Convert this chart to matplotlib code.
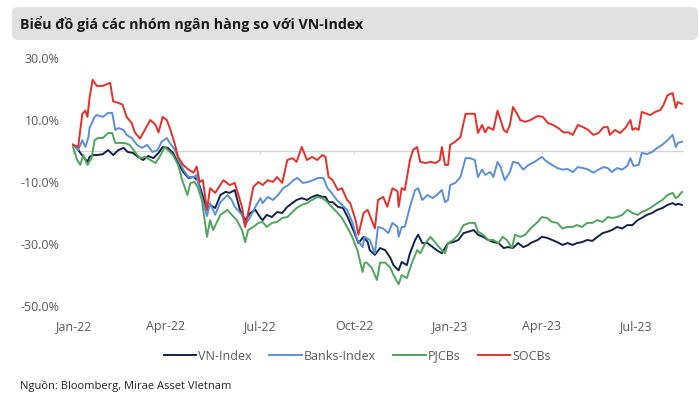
import pandas as pd
import matplotlib
matplotlib.use("Agg")
import matplotlib.pyplot as plt
import matplotlib.dates as mdates
from matplotlib.patches import FancyBboxPatch
from matplotlib.ticker import FuncFormatter

plt.rcParams['font.family'] = ['Open Sans', 'DejaVu Sans']

# Price change vs 1 Jan 2022 (%); x = days since 2022-01-01
start = pd.Timestamp("2022-01-01")

vn_days = [0, 4, 7, 10, 14, 16, 19, 24, 29, 34, 39, 44, 49, 53, 58, 63, 68, 73, 78, 83,
           87, 92, 97, 102, 107, 112, 117, 121, 125, 130, 133, 138, 143, 148, 152, 157, 162, 167, 172, 177,
           182, 184, 188, 193, 198, 203, 208, 213, 217, 222, 227, 232, 237, 242, 245, 248, 252, 257, 262, 267,
           272, 277, 282, 286, 288, 293, 298, 303, 308, 311, 316, 319, 324, 327, 332, 335, 339, 344, 349, 353,
           358, 361, 364, 369, 374, 379, 384, 389, 393, 398, 403, 408, 413, 418, 422, 427, 432, 437, 442, 444,
           451, 455, 460, 465, 470, 475, 480, 485, 489, 494, 499, 504, 509, 514, 519, 523, 528, 533, 538, 543,
           548, 552, 557, 562, 567, 572, 577, 582, 585, 587, 591]
vn_index = [2, 1, -0.6, -1.9, -3.5, -1.9, -1.3, -1.3, -1, 0.3, -1.3, 0.3, 1, -0.3, -0.6, -1.9, -2.9, -1.6, -2.3, -0.6,
            1.3, 1, -0.6, -3.9, -6.8, -8.7, -8.4, -9.4, -13.5, -19, -17.4, -18.4, -14.2, -13.2, -13.5, -12.6, -19, -22.3, -20, -19,
            -21.6, -22.3, -20.6, -21.3, -19.7, -20, -18, -16.8, -15.8, -15.2, -15.8, -14.8, -14.2, -14.8, -14.8, -16.5, -16.5, -18, -18.4, -21.6,
            -25.5, -29.7, -27.7, -29.4, -32, -33.5, -31.3, -32, -34.5, -36.8, -38.5, -35.8, -36.8, -33, -28.7, -27, -29.7, -29.7, -31, -32,
            -33, -31.3, -29.7, -29.4, -28.7, -26.5, -26, -25.5, -27, -27.7, -28.7, -29.4, -29.7, -31.3, -31, -31.3, -29.7, -31, -30.3, -29.7,
            -28.7, -27.7, -28, -28.7, -29.4, -30.3, -29.7, -30.3, -29.7, -29.4, -28.7, -29, -27.7, -26.5, -26, -25.5, -24.5, -25, -23.9, -23.9,
            -22.3, -21.6, -20.6, -20, -19, -18.4, -17.4, -16.8, -17.4, -17, -17.4]

bank_days = [0, 5, 9, 12, 15, 16, 21, 23, 29, 34, 38, 41, 44, 49, 52, 57, 62, 67, 72, 77,
             82, 86, 91, 94, 99, 102, 107, 112, 117, 120, 123, 130, 133, 138, 143, 150, 154, 157, 164, 167,
             172, 177, 182, 184, 189, 194, 199, 204, 209, 214, 218, 223, 228, 233, 238, 243, 247, 251, 256, 261,
             266, 271, 276, 281, 283, 288, 293, 296, 301, 306, 310, 315, 316, 319, 322, 327, 332, 335, 339, 344,
             349, 353, 358, 361, 364, 366, 371, 376, 381, 385, 390, 393, 397, 400, 405, 408, 412, 415, 419, 424,
             427, 432, 437, 442, 448, 455, 460, 465, 470, 475, 480, 485, 490, 495, 500, 505, 510, 515, 519, 523,
             528, 533, 538, 541, 544, 549, 552, 557, 562, 567, 572, 577, 582, 585, 587, 591]
banks_index = [2, 0.3, 3.5, 1.3, 4.5, 7.4, 11, 11.6, 11, 12.3, 12.3, 6.8, 7.4, 6.8, 5.2, 4.2, 2, 1, 2, -0.3,
               0.3, 3, 4.2, 2.6, 0.3, -2.3, -6, -8.4, -8.4, -7.7, -12.6, -21, -16.8, -20.6, -16.5, -14.2, -15.8, -18, -20.6, -23.9,
               -21.3, -18, -15.2, -16.8, -14.8, -15.8, -14.2, -12, -11, -9.4, -8.7, -10.3, -10, -9.4, -8.7, -8.7, -12, -13.5, -15.8, -17.4,
               -19, -22.9, -28.7, -31, -27.7, -28.7, -33, -24.5, -25, -26.5, -23.2, -24.5, -27.7, -24.5, -24.5, -18, -12.6, -12, -15.8, -14.2,
               -15.2, -14.2, -12.6, -16.5, -15.8, -11, -10.3, -8.4, -2.3, -2.3, -2.9, -8.4, -6, -7.7, -6.8, -8.4, -3.5, -5.2, -9.4, -6.8,
               -3.5, -3.9, -6, -4.5, -3.5, -1.9, -3.5, -4.5, -5.5, -6, -5.8, -6.8, -5.2, -5.5, -6, -7, -6, -5.2, -5.5, -6.8,
               -5.5, -6, -4.8, -2.3, -4.8, -4.5, -0.6, -1, -0.3, 1, 2, 3.5, 5.2, 1.3, 2.6, 3]

pj_days = [0, 4, 7, 10, 14, 18, 21, 24, 29, 34, 38, 41, 46, 50, 55, 60, 65, 70, 75, 80,
           84, 89, 92, 97, 102, 106, 111, 114, 118, 121, 125, 130, 133, 136, 143, 150, 154, 159, 164, 167,
           170, 175, 180, 184, 188, 193, 198, 203, 208, 213, 217, 222, 227, 232, 237, 242, 247, 251, 256, 261,
           266, 271, 276, 281, 283, 285, 290, 295, 298, 303, 308, 311, 316, 319, 324, 329, 334, 337, 342, 347,
           352, 356, 361, 364, 369, 374, 379, 385, 390, 393, 398, 403, 408, 413, 417, 421, 426, 429, 434, 439,
           444, 451, 455, 460, 465, 470, 475, 480, 485, 489, 494, 499, 504, 509, 514, 519, 523, 528, 533, 538,
           543, 548, 552, 557, 562, 567, 572, 577, 582, 585, 587, 591]
pjcbs = [1.3, -2.9, -4.5, -1.3, -4.5, -2.3, 3.5, 4.2, 4.2, 5.8, 5.8, 2.6, 2.6, 2.6, 2, -0.3, -2.3, -1.9, -2.9, -3.9,
         -1.9, 1.3, 0.3, -1.3, -4.5, -9.4, -14.2, -10.3, -10, -11.6, -15.8, -27.7, -22.3, -25.5, -20.6, -19, -20.6, -22.3, -25.5, -29.4,
         -25.5, -24.5, -23.2, -22.9, -24.5, -23.2, -22.9, -21.6, -21.3, -19.7, -18.4, -17.4, -16.8, -15.8, -14.8, -15.2, -16.5, -18, -19.7, -21.6,
         -24.5, -27.7, -32, -39, -36, -36, -37.7, -41.6, -36, -36, -37.7, -40, -43, -40, -41, -36, -32, -33, -29.7, -27.7,
         -29.7, -31.3, -33, -29.7, -28.7, -27, -23.9, -23.2, -23.2, -26, -27, -28.7, -28.7, -29.7, -27.7, -28.7, -31.3, -27, -27.7, -27,
         -25, -22.9, -21.3, -21.6, -22.9, -23.2, -25, -24.5, -24.5, -23.9, -24.5, -23.2, -23.2, -22.3, -22.9, -21.3, -21.6, -21.3, -20.6, -19,
         -20, -20.6, -19.7, -19, -18, -16.8, -15.8, -14.2, -13.5, -15.2, -14.8, -13.2]

soc_days = [0, 5, 9, 12, 14, 16, 19, 23, 29, 36, 39, 44, 48, 52, 57, 60, 65, 70, 75, 80,
            83, 87, 91, 94, 99, 102, 107, 112, 117, 120, 123, 126, 130, 133, 138, 146, 152, 157, 164, 167,
            170, 175, 180, 184, 189, 194, 198, 203, 208, 213, 217, 222, 227, 232, 237, 242, 245, 248, 252, 257,
            261, 266, 269, 274, 277, 282, 286, 293, 296, 301, 305, 310, 315, 316, 319, 322, 327, 330, 334, 337,
            342, 347, 352, 356, 358, 361, 364, 366, 371, 376, 381, 385, 390, 393, 397, 400, 403, 408, 412, 415,
            418, 421, 424, 427, 431, 434, 439, 444, 451, 456, 461, 466, 471, 476, 481, 485, 490, 495, 500, 505,
            510, 515, 519, 521, 526, 531, 536, 541, 543, 546, 549, 552, 557, 560, 565, 570, 573, 577, 582, 585,
            587, 591]
socbs = [2, 1.3, 12, 13, 11, 17, 23, 21, 21, 22, 16, 15.5, 15, 11, 9, 6, 4, 7, 10, 8.5,
         6, 11, 10, 7.4, 2, -2, -4.5, -6, -7, -5, -10, -9.4, -19, -12, -13.5, -9.4, -11, -10.3, -18, -24.5,
         -20, -11.6, -10, -11, -9.4, -10, -8.4, -10.3, -2.9, -2.3, -3.5, 1.3, -2.9, -1.9, -2.9, -1.3, -1.9, -8.4, -9.4, -12.6,
         -12, -15.8, -16.8, -22, -27, -20, -19, -25, -15.8, -14.8, -18, -12, -13, -18, -12, -12.6, -2.9, 0.3, 1.3, -3.5,
         -3.9, -3.5, -3.9, -2.9, 1.3, -4.5, -4.5, 2, 3, 4.5, 12, 12, 12, 5.8, 8.4, 6, 7.7, 6.8, 13, 10,
         6.8, 6, 8.4, 14.2, 12, 10, 9.4, 10, 11.3, 11, 9, 8.4, 7.4, 6, 6, 5.2, 8.4, 7.7, 6.8, 5.2,
         5.8, 7.7, 7.7, 5.2, 6.8, 5.8, 7.4, 10, 6.8, 7.4, 6.8, 12.6, 12, 11.6, 12.6, 13.2, 14.8, 18, 18.7, 13.9,
         15.8, 15.2]

series = [
    ("VN-Index", vn_days, vn_index, "#13224d"),
    ("Banks-Index", bank_days, banks_index, "#5b8fd6"),
    ("PJCBs", pj_days, pjcbs, "#4fa55c"),
    ("SOCBs", soc_days, socbs, "#e2312a"),
]

quarters = pd.to_datetime(["2022-01-01", "2022-04-01", "2022-07-01", "2022-10-01",
                           "2023-01-01", "2023-04-01", "2023-07-01"])
y_ticks = [-50, -30, -10, 10, 30]

fig = plt.figure(figsize=(7, 3.98), dpi=100)

# grey title bar
fig.patches.append(FancyBboxPatch((12, 398 - 40), 686, 33, boxstyle="round,pad=0,rounding_size=6",
                                  transform=None, facecolor="#e1e1e1", edgecolor="none"))
fig.text(20 / 700, 1 - 24 / 398, "Biểu đồ giá các nhóm ngân hàng so với VN-Index",
         fontsize=10.3, fontweight="bold", color="#1a1a1a", va="center", ha="left")

ax = fig.add_axes([72 / 700, 1 - 306 / 398, 612 / 700, 248 / 398])

for name, days, vals, col in series:
    dates = start + pd.to_timedelta(days, unit="D")
    ax.plot(dates, vals, color=col, lw=1.4, label=name, solid_joinstyle="round")

# horizontal axis drawn at zero with small tick marks
ax.axhline(0, color="#d4d4d4", lw=0.9, zorder=0)
ax.vlines(quarters, -1.0, 0, color="#d4d4d4", lw=0.9, zorder=0)

ax.set_xlim(start - pd.Timedelta(days=1), start + pd.Timedelta(days=593))
ax.set_ylim(-50, 30)
ax.set_xticks(quarters)
ax.xaxis.set_major_formatter(mdates.DateFormatter("%b-%y"))
ax.set_yticks(y_ticks)
ax.yaxis.set_major_formatter(FuncFormatter(lambda v, p: f"{v:.1f}%"))
ax.tick_params(axis="both", length=0, labelsize=9, labelcolor="#595959")
ax.tick_params(axis="x", pad=10)
ax.tick_params(axis="y", pad=9)
for s in ax.spines.values():
    s.set_visible(False)

fig.legend(loc="center", bbox_to_anchor=(357 / 700, 1 - 356 / 398), ncol=4, frameon=False,
           fontsize=9, labelcolor="#595959", handlelength=2.6, handletextpad=0.15,
           columnspacing=1.4)

fig.text(20 / 700, 1 - 386 / 398, "Nguồn: Bloomberg, Mirae Asset VIetnam",
         fontsize=8, color="#222222", va="center", ha="left")

fig.savefig("out.png", dpi=100)
